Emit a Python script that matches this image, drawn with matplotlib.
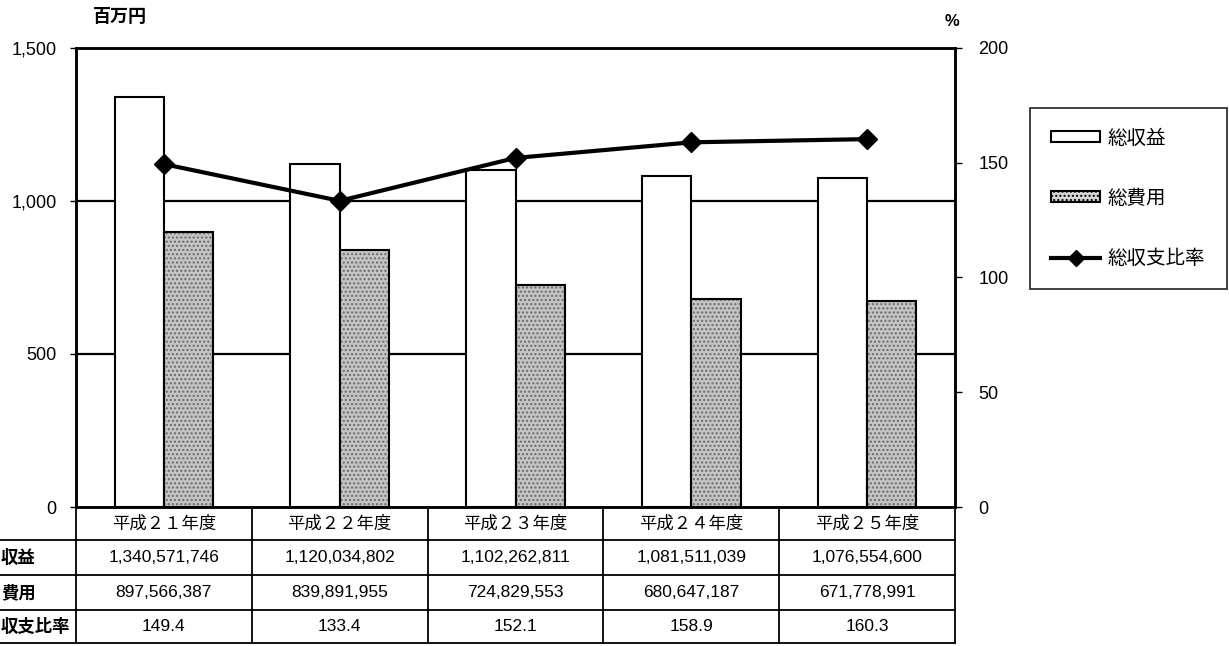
import matplotlib
matplotlib.use("Agg")
import matplotlib.pyplot as plt
from matplotlib.patches import Patch
from matplotlib.lines import Line2D

plt.rcParams['font.family'] = ['Liberation Sans', 'Noto Sans CJK JP', 'DejaVu Sans']

# data
years = ["平成２１年度", "平成２２年度", "平成２３年度", "平成２４年度", "平成２５年度"]
revenue = [1340571746, 1120034802, 1102262811, 1081511039, 1076554600]
cost = [897566387, 839891955, 724829553, 680647187, 671778991]
ratio = [149.4, 133.4, 152.1, 158.9, 160.3]
# row labels as visible in the picture (first character lies beyond the left edge)
row_labels = ["収益", "費用", "収支比率"]
legend_labels = ["総収益", "総費用", "総収支比率"]

W, H = 1229, 646
fig = plt.figure(figsize=(W / 100, H / 100), dpi=100)

# plot area in pixels
left, right, top, bottom = 76, 955, 48, 507
ax = fig.add_axes([left / W, 1 - bottom / H, (right - left) / W, (bottom - top) / H])
ax_w, ax_h = right - left, bottom - top

x = list(range(len(years)))
rev_m = [v / 1e6 for v in revenue]
cost_m = [v / 1e6 for v in cost]

bw = 0.28
ax.bar([i - bw / 2 for i in x], rev_m, bw, facecolor='white', edgecolor='black', linewidth=1.5, zorder=3)
ax.bar([i + bw / 2 for i in x], cost_m, bw, facecolor='#c4c4c4', edgecolor='#6a6a6a', linewidth=0,
       hatch='....', zorder=3)
ax.bar([i + bw / 2 for i in x], cost_m, bw, fill=False, edgecolor='black', linewidth=1.5, zorder=4)

ax.set_xlim(-0.5, len(years) - 0.5)
ax.set_ylim(0, 1500)
ax.set_yticks([0, 500, 1000, 1500])
ax.set_yticklabels(["0", "500", "1,000", "1,500"])
ax.set_xticks([])
for y in [500, 1000]:
    ax.axhline(y, color='black', linewidth=1.6, zorder=1)
for s in ax.spines.values():
    s.set_linewidth(1.8)
ax.tick_params(axis='y', labelsize=13, length=4, width=1, pad=10, direction='out')

ax2 = ax.twinx()
ax2.plot(x, ratio, color='black', linewidth=3, marker='D', markersize=10, zorder=5)
ax2.set_ylim(0, 200)
ax2.set_yticks([0, 50, 100, 150, 200])
ax2.tick_params(axis='y', labelsize=13, length=5, width=1, pad=12, direction='out')
for s in ax2.spines.values():
    s.set_linewidth(1.8)

fig.text(120 / W, 1 - 17 / H, "百万円", fontsize=13, ha='center', va='center', fontweight='bold')
fig.text(952 / W, 1 - 22 / H, "%", fontsize=12, ha='center', va='center', fontweight='bold')

# data table under the plot
tr = ax.get_xaxis_transform()
row_edges = [507, 540, 575, 610, 643]
ay = [(bottom - r) / ax_h for r in row_edges]
label_x = (1 - left) / ax_w
far_left = (-40 - left) / ax_w
lk = dict(color='black', linewidth=1.3, clip_on=False)
# horizontal lines
for j, yy in enumerate(ay):
    if j == 0:
        continue
    ax.plot([far_left, 1], [yy, yy], transform=ax.transAxes, **lk)
# vertical lines
for b in range(len(years) + 1):
    xb = b - 0.5
    ax.plot([xb, xb], [ay[0], ay[-1]], transform=tr, **lk)

cell_font = 12.5
hy = (ay[0] + ay[1]) / 2
for i, yr in enumerate(years):
    ax.text(i, hy, yr, transform=tr, ha='center', va='center', fontsize=cell_font)
rows = [[f"{v:,}" for v in revenue], [f"{v:,}" for v in cost], [f"{v:.1f}" for v in ratio]]
for r, vals in enumerate(rows):
    cy = (ay[r + 1] + ay[r + 2]) / 2
    ax.text(label_x, cy, row_labels[r], transform=ax.transAxes, ha='left', va='center',
            fontsize=cell_font, fontweight='bold', clip_on=False)
    for i, v in enumerate(vals):
        ax.text(i, cy, v, transform=tr, ha='center', va='center', fontsize=cell_font)

# legend
handles = [
    Patch(facecolor='white', edgecolor='black', linewidth=1.5),
    Patch(facecolor='#d8d8d8', edgecolor='black', linewidth=1.5, hatch='....'),
    Line2D([], [], color='black', linewidth=3, marker='D', markersize=8),
]
leg = fig.legend(handles, legend_labels, loc='upper left',
                 bbox_to_anchor=(1030 / W, 1 - 108 / H), fontsize=14, frameon=True,
                 fancybox=False, edgecolor='black', handlelength=2.5, handleheight=0.5,
                 handletextpad=0.4, labelspacing=2.15, borderpad=1.1, borderaxespad=0)
leg.get_frame().set_linewidth(1.3)

fig.savefig("out.png", dpi=100)
